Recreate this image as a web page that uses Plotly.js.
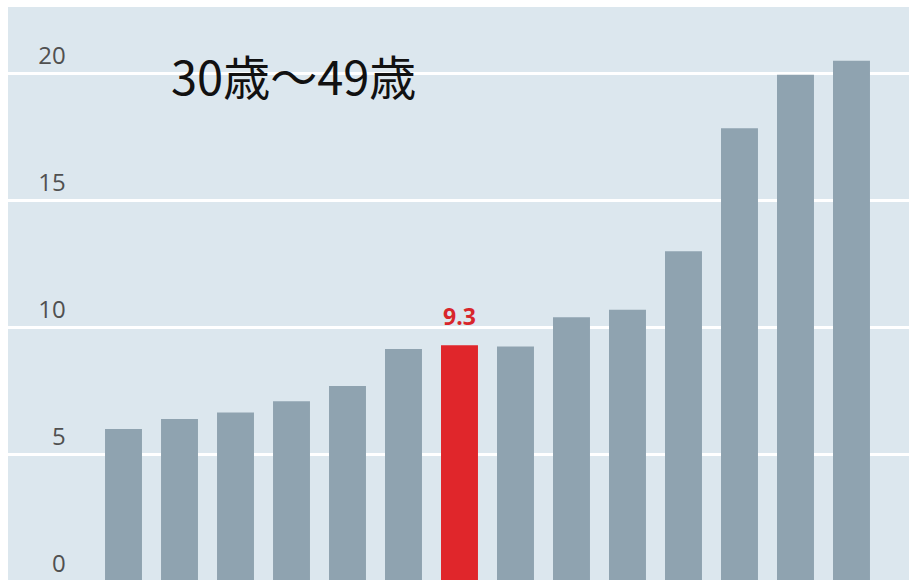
<!DOCTYPE html>
<html>
<head>
<meta charset="utf-8">
<script src="https://cdn.plot.ly/plotly-3.0.1.min.js"></script>
<style>html,body{margin:0;padding:0;background:#fff;overflow:hidden;}#chart{width:909px;height:583px;}</style>
</head>
<body>
<div id="chart"></div>
<script>
const categories = ['1','2','3','4','5','6','7','8','9','10','11','12','13','14'];
const values = [6.0, 6.4, 6.65, 7.1, 7.7, 9.15, 9.3, 9.25, 10.4, 10.7, 13.0, 17.85, 19.95, 20.5];
const highlightIndex = 6;
const titleText = '30歳～49歳';
const tickVals = [0, 5, 10, 15, 20];

const colors = values.map((v, i) => i === highlightIndex ? '#e0262b' : '#8fa3b0');

const trace = {
  type: 'bar',
  x: categories.map((c, i) => i),
  y: values,
  width: 0.66,
  marker: {color: colors},
  hoverinfo: 'none'
};

const layout = {
  width: 909, height: 583,
  margin: {l: 8, r: 0, t: 7, b: 0},
  paper_bgcolor: '#ffffff',
  plot_bgcolor: '#dce7ee',
  showlegend: false,
  title: {
    text: titleText,
    font: {family: 'Noto Sans CJK JP, sans-serif', size: 47, color: '#111111'},
    xref: 'container', yref: 'container',
    x: 171/909, xanchor: 'left',
    y: 1 - 79/583, yanchor: 'middle'
  },
  xaxis: {
    range: [-2.0625, 14.027],
    showgrid: false, zeroline: false, showticklabels: false, ticks: '', showline: false
  },
  yaxis: {
    range: [-0.06, 22.62],
    tickvals: tickVals,
    ticktext: tickVals.map(String),
    showgrid: true, gridcolor: '#ffffff', gridwidth: 2.5,
    zeroline: false, showline: false, ticks: '',
    anchor: 'free', position: 0.064,
    ticklabelshift: -18,
    tickfont: {family: 'Open Sans, sans-serif', size: 24, color: '#505050'}
  },
  annotations: [{
    x: highlightIndex, y: values[highlightIndex],
    xref: 'x', yref: 'y',
    text: '<b>' + values[highlightIndex].toFixed(1) + '</b>',
    showarrow: false, yanchor: 'bottom', yshift: 11,
    font: {family: 'Open Sans, sans-serif', size: 23, color: '#d8262b'}
  }]
};

Plotly.newPlot('chart', [trace], layout, {staticPlot: true, displayModeBar: false});
</script>
</body>
</html>
